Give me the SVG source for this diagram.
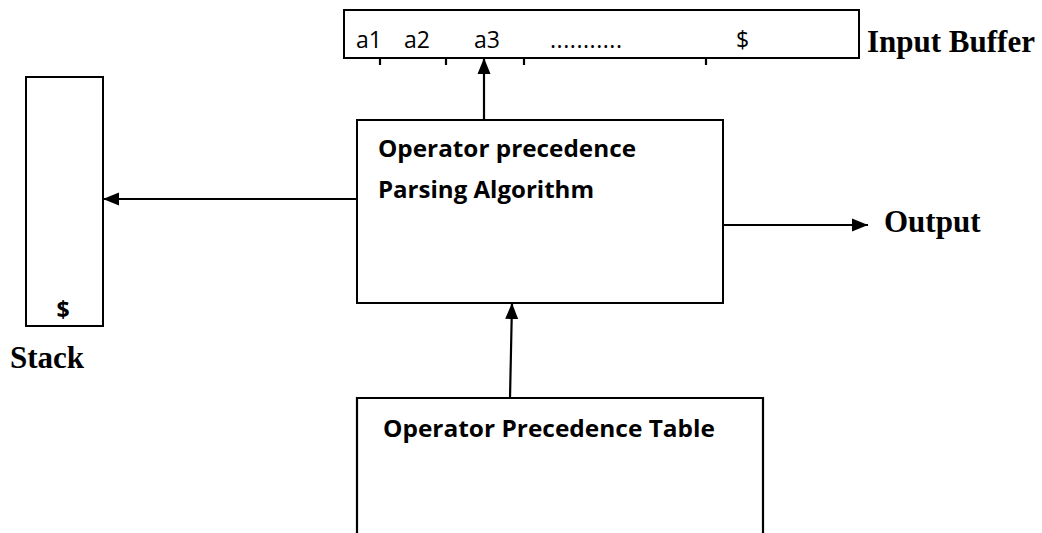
<svg xmlns="http://www.w3.org/2000/svg" width="1042" height="533" viewBox="0 0 1042 533">
<defs>
<marker id="ah" markerWidth="17" markerHeight="14" refX="16" refY="7" orient="auto" markerUnits="userSpaceOnUse">
<path d="M0,0.5 L16,7 L0,13.5 Z" fill="#000"/>
</marker>
<style>
.box{fill:#fff;stroke:#000;stroke-width:2}
.ln{stroke:#000;stroke-width:2.2;fill:none}
.cal{font-family:"Open Sans","Liberation Sans",sans-serif;fill:#000}
.b{font-weight:bold}
.tm{font-family:"Liberation Serif",serif;font-weight:bold;font-size:31px;fill:#000}
</style>
</defs>
<rect width="1042" height="533" fill="#fff"/>
<g id="input-buffer">
<rect class="box" x="344" y="10" width="515" height="48"/>
<path class="ln" d="M380,58 V65 M446,58 V65 M524,58 V65 M706,58 V65" stroke-width="1.5"/>
<text class="cal" font-size="23" y="48"><tspan x="356">a1</tspan><tspan x="404">a2</tspan><tspan x="474">a3</tspan><tspan x="550" textLength="72" lengthAdjust="spacing">...........</tspan><tspan x="736">$</tspan></text>
<text class="tm" x="867" y="52">Input Buffer</text>
</g>
<g id="stack">
<rect class="box" x="26" y="77" width="77" height="249"/>
<text class="cal b" font-size="23" x="63" y="318" text-anchor="middle">$</text>
<text class="tm" x="10" y="368">Stack</text>
</g>
<g id="algorithm">
<rect class="box" x="357" y="120" width="366" height="183"/>
<text class="cal b" font-size="23" x="378" y="157" textLength="258" lengthAdjust="spacingAndGlyphs">Operator precedence</text>
<text class="cal b" font-size="23" x="378" y="198" textLength="216" lengthAdjust="spacingAndGlyphs">Parsing Algorithm</text>
</g>
<g id="table">
<path class="ln" d="M357,533 V398 H763 V533"/>
<text class="cal b" font-size="23" x="383" y="437" textLength="332" lengthAdjust="spacingAndGlyphs">Operator Precedence Table</text>
</g>
<g id="output">
<text class="tm" x="884" y="232">Output</text>
</g>
<g id="connectors">
<line class="ln" x1="484" y1="120" x2="484" y2="58" marker-end="url(#ah)"/>
<line class="ln" x1="357" y1="199" x2="103" y2="199" marker-end="url(#ah)"/>
<line class="ln" x1="723" y1="225" x2="868" y2="225" marker-end="url(#ah)"/>
<line class="ln" x1="510" y1="398" x2="512" y2="303" marker-end="url(#ah)"/>
</g>
</svg>
